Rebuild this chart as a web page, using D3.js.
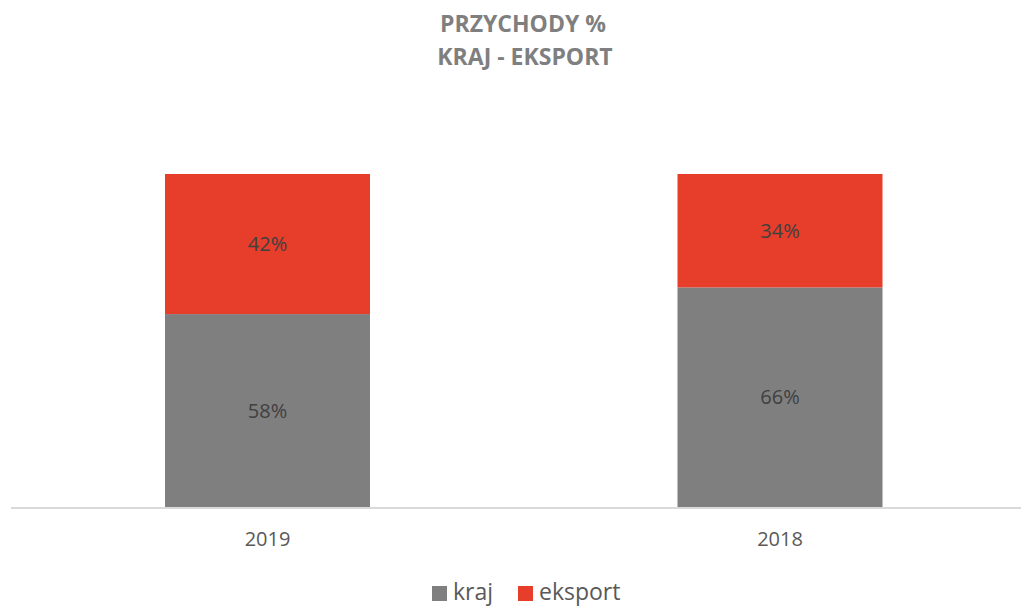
<!DOCTYPE html>
<html><head><meta charset="utf-8">
<script src="https://cdn.jsdelivr.net/npm/d3@7"></script>
<style>body{margin:0;background:#fff}svg{display:block}</style>
</head><body><svg id="c" width="1021" height="607"></svg>
<script>
const categories = ["2019", "2018"];
const seriesNames = ["kraj", "eksport"];
const kraj = [58, 66];
const eksport = [42, 34];
const colors = ["#7f7f7f", "#e63e2a"];
const font = "'Open Sans', 'Liberation Sans', sans-serif";

const svg = d3.select("#c");
const x = d3.scaleBand().domain(categories).range([11.25, 1036.25]).paddingInner(0.6).paddingOuter(0.3);
const y = d3.scaleLinear().domain([0, 100]).range([507.5, 174]);

const rows = categories.map((c, i) => ({cat: c, kraj: kraj[i], eksport: eksport[i]}));
const stacked = d3.stack().keys(seriesNames)(rows);

stacked.forEach((s, si) => {
  const g = svg.append("g");
  g.selectAll("rect").data(s).join("rect")
    .attr("x", d => x(d.data.cat))
    .attr("width", x.bandwidth())
    .attr("y", d => y(d[1]))
    .attr("height", d => y(d[0]) - y(d[1]))
    .attr("fill", colors[si]);
  g.selectAll("text").data(s).join("text")
    .attr("x", d => x(d.data.cat) + x.bandwidth() / 2)
    .attr("y", d => (y(d[0]) + y(d[1])) / 2)
    .attr("dy", "0.35em")
    .attr("text-anchor", "middle")
    .attr("font-family", font).attr("font-size", 20).attr("fill", "#404040")
    .text(d => (d[1] - d[0]) + "%");
});

// axis
const axis = svg.append("g").attr("transform", "translate(0,508)")
  .call(d3.axisBottom(x).tickSize(0).tickPadding(24));
axis.select(".domain").attr("stroke", "#d9d9d9").attr("stroke-width", 2)
  .attr("d", "M11,0H1021");
axis.selectAll("text").attr("font-family", font).attr("font-size", 20).attr("fill", "#595959");

// title
const title = svg.append("text").attr("text-anchor", "middle").attr("font-family", font)
  .attr("font-weight", "bold").attr("font-size", 23).attr("fill", "#7f7f7f");
title.append("tspan").attr("x", 523).attr("y", 32).text("PRZYCHODY %");
title.append("tspan").attr("x", 525).attr("y", 65).text("KRAJ - EKSPORT");

// legend
const leg = svg.append("g");
const items = [{n: seriesNames[0], c: colors[0], x: 432}, {n: seriesNames[1], c: colors[1], x: 518}];
items.forEach(it => {
  leg.append("rect").attr("x", it.x).attr("y", 586).attr("width", 15).attr("height", 15).attr("fill", it.c);
  leg.append("text").attr("x", it.x + 21).attr("y", 592).attr("dy", "0.35em")
    .attr("font-family", font).attr("font-size", 23).attr("fill", "#595959").text(it.n);
});
</script></body></html>
